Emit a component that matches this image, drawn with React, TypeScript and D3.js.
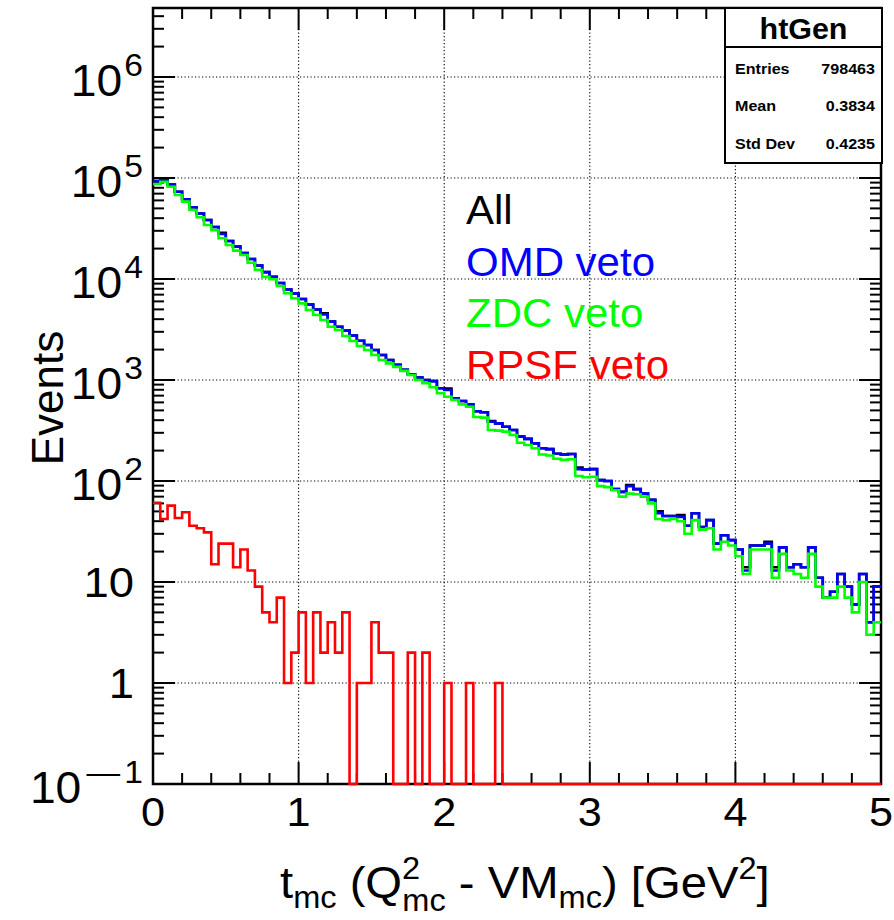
import React from "react";
import * as d3 from "d3";

// ---------- data ----------
const T_MIN = 0;
const T_MAX = 5;

const allCounts = [
  93000, 95000, 86300, 73100, 61500, 51300, 44500, 38400, 32700, 28600,
  23800, 20900, 18100, 15800, 13600, 11700, 10500, 9120, 7870, 7180,
  6340, 5590, 4990, 4580, 3780, 3370, 3080, 2750, 2450, 2220,
  1980, 1770, 1580, 1410, 1260, 1140, 1060, 1000, 975, 828,
  824, 659, 620, 574, 490, 480, 393, 372, 345, 320,
  275, 261, 236, 211, 207, 186, 183, 185, 136, 130,
  131, 102, 100, 83, 78, 91, 83, 75, 65, 50,
  45, 45, 46, 36, 48, 35, 41, 24, 29, 26,
  21, 14, 23, 23, 25, 14, 22, 14, 15, 14,
  22, 11, 7, 8, 12, 9, 6, 12, 4, 9,
];

const omdCounts = [
  93000, 95000, 86300, 73100, 61500, 51300, 44500, 38400, 32700, 27900,
  23800, 20900, 18100, 15800, 13600, 11700, 10500, 9120, 7870, 7180,
  6340, 5590, 4990, 4450, 3780, 3370, 3080, 2750, 2450, 2220,
  1980, 1770, 1580, 1410, 1260, 1140, 1060, 1000, 975, 828,
  796, 659, 620, 574, 490, 480, 386, 372, 345, 320,
  275, 261, 236, 211, 207, 186, 183, 185, 131, 130,
  131, 102, 100, 83, 78, 89, 83, 75, 65, 48,
  45, 45, 44, 36, 48, 35, 41, 24, 29, 26,
  21, 13, 23, 23, 24, 13, 22, 14, 15, 14,
  22, 11, 7, 8, 12, 9, 6, 12, 4, 9,
];

const zdcCounts = [
  87300, 91900, 82000, 67900, 58300, 48200, 40800, 34200, 30500, 25300,
  21700, 19100, 17300, 14500, 12300, 10500, 9930, 8530, 7220, 6440,
  5740, 4930, 4400, 3930, 3370, 3130, 2730, 2430, 2170, 1980,
  1770, 1580, 1460, 1350, 1230, 1120, 1000, 927, 847, 738,
  683, 634, 574, 544, 430, 424, 320, 315, 308, 285,
  239, 227, 211, 183, 179, 166, 162, 164, 112, 109,
  110, 89, 87, 81, 70, 75, 74, 70, 60, 42,
  41, 42, 40, 30, 41, 33, 34, 21, 25, 23,
  18, 12, 21, 21, 21, 11, 19, 13, 12, 11,
  19, 9, 7, 7, 9, 7, 5, 10, 3, 4,
];

const rpsfCounts = [
  61, 42, 57, 43, 49, 36, 34, 31, 15, 24,
  24, 14, 21, 13, 9, 5, 4, 7, 1, 2,
  5, 1, 5, 2, 4, 2, 5, 0, 1, 1,
  4, 2, 2, 0, 0, 2, 0, 2, 0, 0,
  1, 0, 0, 1, 0, 0, 0, 1, 0, 0,
  0, 0, 0, 0, 0, 0, 0, 0, 0, 0,
  0, 0, 0, 0, 0, 0, 0, 0, 0, 0,
  0, 0, 0, 0, 0, 0, 0, 0, 0, 0,
  0, 0, 0, 0, 0, 0, 0, 0, 0, 0,
  0, 0, 0, 0, 0, 0, 0, 0, 0, 0,
];

const seriesNames = ["All", "OMD veto", "ZDC veto", "RPSF veto"];
const seriesColors = ["#000000", "#0000ff", "#00ff00", "#ff0000"];
const seriesCounts = [allCounts, omdCounts, zdcCounts, rpsfCounts];

const xTickValues = [0, 1, 2, 3, 4, 5];
const yDecadeExps = [-1, 0, 1, 2, 3, 4, 5, 6];

const statsTitle = "htGen";
const statsLabels = ["Entries", "Mean", "Std Dev"];
const statsValues = ["798463", "0.3834", "0.4235"];

const yAxisTitle = "Events";

// ---------- layout ----------
const W = 894;
const H = 920;
const PL = 153;
const PR = 881;
const PT = 8;
const PB = 784;
const Y_MIN = 0.1;
const Y_MAX = 4.82e6;
const FONT = "'Liberation Sans', Arial, Helvetica, sans-serif";

const xScale = d3.scaleLinear().domain([T_MIN, T_MAX]).range([PL, PR]);
const yScale = d3.scaleLog().domain([Y_MIN, Y_MAX]).range([PB, PT]);

function histPath(counts: number[]): string {
  const w = (T_MAX - T_MIN) / counts.length;
  const pts: [number, number][] = [];
  counts.forEach((c, i) => {
    const yy = c > 0 ? yScale(c) : yScale(Y_MIN);
    pts.push([xScale(T_MIN + i * w), yy]);
    pts.push([xScale(T_MIN + (i + 1) * w), yy]);
  });
  return d3.line()(pts) || "";
}

function SText(props: any) {
  const { x, y, sx = 1, children, ...rest } = props;
  return (
    <text transform={`translate(${x},${y}) scale(${sx},1)`} fontFamily={FONT} {...rest}>
      {children}
    </text>
  );
}

export default function App() {
  const xMinor: number[] = d3.range(0, 5.0001, 0.2).map((v) => +v.toFixed(2));
  const yMinor: number[] = [];
  for (let e = -1; e <= 6; e++) {
    for (let k = 2; k <= 9; k++) {
      const v = k * Math.pow(10, e);
      if (v <= Y_MAX) yMinor.push(v);
    }
  }
  const MAJ = 22;
  const MIN = 11;

  const statsX0 = 725;
  const statsX1 = 882;
  const statsY0 = 8;
  const statsY1 = 163;
  const statsSep = 47;

  return (
    <svg
      width={W}
      height={H}
      style={{ position: "absolute", left: 0, top: 0, background: "#fff" }}
    >
      <rect x={0} y={0} width={W} height={H} fill="#fff" />
      {/* grid */}
      <g stroke="#000" strokeWidth={1.1} strokeDasharray="1.2,2.3">
        {xTickValues
          .filter((v) => v > T_MIN && v < T_MAX)
          .map((v) => (
            <line key={"gx" + v} x1={xScale(v)} x2={xScale(v)} y1={PT} y2={PB} />
          ))}
        {yDecadeExps
          .filter((e) => e > -1)
          .map((e) => (
            <line key={"gy" + e} x1={PL} x2={PR} y1={yScale(Math.pow(10, e))} y2={yScale(Math.pow(10, e))} />
          ))}
      </g>

      {/* ticks */}
      <g stroke="#000" strokeWidth={2}>
        {xMinor.map((v) => {
          const major = Math.abs(v - Math.round(v)) < 1e-6;
          const L = major ? MAJ : MIN;
          return (
            <g key={"tx" + v}>
              <line x1={xScale(v)} x2={xScale(v)} y1={PB} y2={PB - L} />
              <line x1={xScale(v)} x2={xScale(v)} y1={PT} y2={PT + L} />
            </g>
          );
        })}
        {yDecadeExps.map((e) => {
          const yy = yScale(Math.pow(10, e));
          return (
            <g key={"ty" + e}>
              <line x1={PL} x2={PL + MAJ} y1={yy} y2={yy} />
              <line x1={PR} x2={PR - MAJ} y1={yy} y2={yy} />
            </g>
          );
        })}
        {yMinor.map((v) => {
          const yy = yScale(v);
          return (
            <g key={"tm" + v}>
              <line x1={PL} x2={PL + MIN} y1={yy} y2={yy} />
              <line x1={PR} x2={PR - MIN} y1={yy} y2={yy} />
            </g>
          );
        })}
      </g>

      {/* frame */}
      <rect x={PL} y={PT} width={PR - PL} height={PB - PT} fill="none" stroke="#000" strokeWidth={2.5} />

      {/* histograms */}
      {seriesCounts.map((c, i) => (
        <path
          key={"h" + i}
          d={histPath(c)}
          fill="none"
          stroke={seriesColors[i]}
          strokeWidth={2.6}
          strokeLinejoin="miter"
        />
      ))}

      {/* x tick labels */}
      {xTickValues.map((v) => (
        <SText key={"xl" + v} x={xScale(v)} y={826} sx={1.08} fontSize={40} textAnchor="middle" fill="#000">
          {String(v)}
        </SText>
      ))}

      {/* y tick labels */}
      {yDecadeExps.map((e) => {
        const yy = yScale(Math.pow(10, e));
        if (e === 0 || e === 1) {
          return (
            <SText key={"yl" + e} x={134} y={yy + 15} sx={1.08} fontSize={42} textAnchor="end" fill="#000">
              {e === 0 ? "1" : "10"}
            </SText>
          );
        }
        if (e < 0) {
          return (
            <SText key={"yl" + e} x={143} y={yy + 19} sx={1.05} fontSize={44} textAnchor="end" fill="#000">
              {"10"}
              <tspan fontSize={32} dy={-20} dx={5}>{"\u2014"}</tspan>
              <tspan fontSize={32} dx={4}>{String(Math.abs(e))}</tspan>
            </SText>
          );
        }
        return (
          <SText key={"yl" + e} x={143} y={yy + 19} sx={1.05} fontSize={44} textAnchor="end" fill="#000">
            {"10"}
            <tspan fontSize={32} dy={-20} dx={2}>{String(e)}</tspan>
          </SText>
        );
      })}

      {/* axis titles */}
      <SText x={280} y={898} sx={1.05} fontSize={45} fill="#000">
        t<tspan fontSize={31} dy={10}>mc</tspan>
        <tspan dy={-10}> (Q</tspan>
        <tspan fontSize={31} dy={-19}>2</tspan>
        <tspan fontSize={31} dx={-17} dy={32}>mc</tspan>
        <tspan dy={-13}> - VM</tspan>
        <tspan fontSize={31} dy={10}>mc</tspan>
        <tspan dy={-10}>) [GeV</tspan>
        <tspan fontSize={31} dy={-19}>2</tspan>
        <tspan dy={19}>]</tspan>
      </SText>

      <text
        transform="translate(63,398) rotate(-90)"
        fontFamily={FONT}
        fontSize={44}
        textAnchor="middle"
        fill="#000"
      >
        {yAxisTitle}
      </text>

      {/* legend */}
      {seriesNames.map((n, i) => (
        <SText key={"lg" + i} x={466} y={224 + i * 51.5} sx={1.05} fontSize={40} fill={seriesColors[i]}>
          {n}
        </SText>
      ))}

      {/* stats box */}
      <rect
        x={statsX0}
        y={statsY0}
        width={statsX1 - statsX0}
        height={statsY1 - statsY0}
        fill="#fff"
        stroke="#000"
        strokeWidth={2}
      />
      <line x1={statsX0} x2={statsX1} y1={statsSep} y2={statsSep} stroke="#000" strokeWidth={2} />
      <SText x={(statsX0 + statsX1) / 2} y={39} sx={1.05} fontSize={29} fontWeight="bold" textAnchor="middle" fill="#000">
        {statsTitle}
      </SText>
      {statsLabels.map((l, i) => (
        <g key={"st" + i}>
          <SText x={735} y={73.5 + i * 37.5} sx={1.15} fontSize={14} fontWeight="bold" fill="#000">
            {l}
          </SText>
          <SText x={875} y={73.5 + i * 37.5} sx={1.15} fontSize={14} fontWeight="bold" textAnchor="end" fill="#000">
            {statsValues[i]}
          </SText>
        </g>
      ))}
    </svg>
  );
}
